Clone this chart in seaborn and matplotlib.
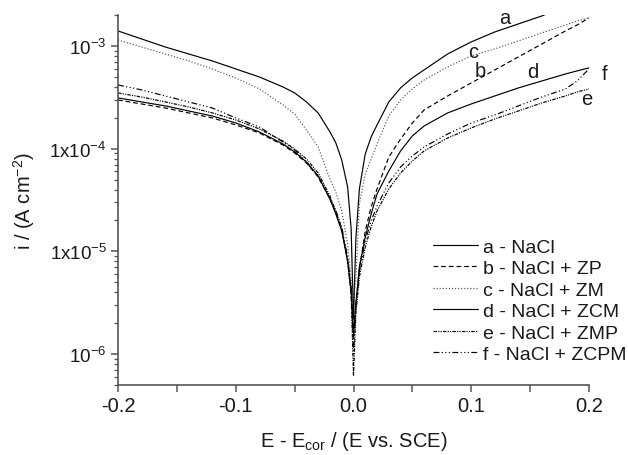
import numpy as np
import pandas as pd
import matplotlib
matplotlib.use("Agg")
import matplotlib.pyplot as plt
import matplotlib.ticker as mticker
import seaborn as sns

# ---- data (current density as log10(i / A cm^-2)) ----
E_a = [-0.2, -0.18, -0.16, -0.14, -0.12, -0.10, -0.08, -0.06, -0.05, -0.04, -0.03, -0.02,
       -0.015, -0.01, -0.005, -0.002, 0.0, 0.002, 0.005, 0.01, 0.015, 0.02, 0.03, 0.04,
       0.05, 0.06, 0.08, 0.10, 0.12, 0.14, 0.16, 0.166]
E = [-0.2, -0.18, -0.16, -0.14, -0.12, -0.10, -0.08, -0.06, -0.05, -0.04, -0.03, -0.02,
     -0.015, -0.01, -0.005, -0.002, 0.0, 0.002, 0.005, 0.01, 0.015, 0.02, 0.03, 0.04,
     0.05, 0.06, 0.08, 0.10, 0.12, 0.14, 0.16, 0.18, 0.19, 0.2]

log_i_a = [-2.854, -2.932, -3.010, -3.078, -3.146, -3.224, -3.302, -3.399, -3.457, -3.545,
           -3.653, -3.837, -3.944, -4.110, -4.372, -4.782, -5.658, -4.879, -4.392, -4.051,
           -3.886, -3.769, -3.545, -3.408, -3.311, -3.233, -3.078, -2.961, -2.864, -2.786,
           -2.708, -2.679]
log_i_b = [-3.526, -3.565, -3.604, -3.652, -3.701, -3.769, -3.847, -3.964, -4.042, -4.139,
           -4.276, -4.490, -4.626, -4.782, -5.093, -5.415, -5.853, -5.512, -5.171, -4.801,
           -4.568, -4.392, -4.081, -3.906, -3.750, -3.623, -3.487, -3.360, -3.234, -3.107,
           -2.981, -2.854, -2.796, -2.727]
log_i_c = [-2.942, -3.010, -3.078, -3.146, -3.224, -3.312, -3.418, -3.574, -3.662, -3.818,
           -3.983, -4.295, -4.422, -4.607, -4.928, -5.269, -5.463, -5.269, -4.538, -4.246,
           -4.100, -3.954, -3.681, -3.526, -3.418, -3.331, -3.204, -3.097, -3.029, -2.951,
           -2.873, -2.796, -2.757, -2.727]
log_i_d = [-3.506, -3.545, -3.584, -3.633, -3.682, -3.750, -3.837, -3.954, -4.032, -4.130,
           -4.266, -4.490, -4.636, -4.801, -5.093, -5.366, -5.804, -5.512, -5.152, -4.860,
           -4.636, -4.441, -4.217, -4.022, -3.876, -3.779, -3.652, -3.565, -3.487, -3.409,
           -3.341, -3.273, -3.243, -3.214]
log_i_e = [-3.458, -3.497, -3.545, -3.594, -3.652, -3.721, -3.808, -3.925, -4.003, -4.100,
           -4.237, -4.461, -4.607, -4.782, -5.093, -5.415, -6.213, -5.609, -5.249, -4.957,
           -4.762, -4.607, -4.392, -4.237, -4.120, -4.022, -3.896, -3.798, -3.711, -3.633,
           -3.555, -3.487, -3.448, -3.419]
log_i_f = [-3.380, -3.428, -3.487, -3.545, -3.604, -3.701, -3.789, -3.935, -4.013, -4.130,
           -4.266, -4.490, -4.607, -4.762, -5.055, -5.366, -5.999, -5.541, -5.191, -4.899,
           -4.704, -4.558, -4.334, -4.178, -4.071, -3.983, -3.857, -3.750, -3.672, -3.584,
           -3.497, -3.419, -3.341, -3.224]

series_names = ["a - NaCl", "b - NaCl + ZP", "c - NaCl + ZM",
                "d - NaCl + ZCM", "e - NaCl + ZMP", "f - NaCl + ZCPM"]
curve_letters = ["a", "b", "c", "d", "e", "f"]
letter_E = [0.1287, 0.1074, 0.1015, 0.1525, 0.1983, 0.2136]
letter_i = [1.91e-3, 5.71e-4, 8.75e-4, 5.58e-4, 3.05e-4, 5.33e-4]

x_ticks = [-0.2, -0.1, 0.0, 0.1, 0.2]
x_tick_labels = ["-0.2", "-0.1", "0.0", "0.1", "0.2"]
y_ticks = [1e-6, 1e-5, 1e-4, 1e-3]
y_tick_labels = [r"$10^{-6}$", r"1x$10^{-5}$", r"1x$10^{-4}$", r"$10^{-3}$"]

# ---- style ----
sns.set_style("ticks")
plt.rcParams["font.family"] = ["Liberation Sans", "DejaVu Sans"]
plt.rcParams["mathtext.fontset"] = "custom"
plt.rcParams["mathtext.rm"] = "Liberation Sans"
plt.rcParams["mathtext.it"] = "Liberation Sans:italic"
plt.rcParams["mathtext.bf"] = "Liberation Sans:bold"

FS = 14.5
FS_Y = 13.5
FS_LEG = 14
spine_col = "#555555"
text_col = "#1a1a1a"

fig = plt.figure(figsize=(6.28, 4.56), dpi=100)
ax = fig.add_axes([118 / 628, 1 - 386 / 456, (589 - 118) / 628, (386 - 16) / 456])

curves = [
    (E_a, log_i_a, "black", "-"),
    (E, log_i_b, "black", (0, (4, 2.5))),
    (E, log_i_c, "#555555", (0, (1, 1.6))),
    (E, log_i_d, "black", "-"),
    (E, log_i_e, "black", (0, (3, 1, 1, 1, 1, 1))),
    (E, log_i_f, "black", (0, (5, 2, 1, 2, 1, 2, 1, 2))),
]

for (xs, ls_vals, col, ls), name in zip(curves, series_names):
    df = pd.DataFrame({"E": xs, "i": np.power(10.0, ls_vals)})
    sns.lineplot(data=df, x="E", y="i", ax=ax, color=col, linestyle=ls,
                 linewidth=0.85, sort=False, estimator=None, label=name)

ax.set_yscale("log")
ax.set_xlim(-0.2, 0.2)
ax.set_ylim(5.0e-7, 2.0e-3)

ax.set_xticks(x_ticks)
ax.set_xticklabels(x_tick_labels)
ax.xaxis.set_minor_locator(mticker.MultipleLocator(0.05))
ax.set_yticks(y_ticks)
ax.set_yticklabels(y_tick_labels)
ax.yaxis.set_minor_locator(mticker.LogLocator(base=10, subs=np.arange(2, 10)))
ax.yaxis.set_minor_formatter(mticker.NullFormatter())

ax.tick_params(which="major", direction="out", length=5, width=1.1,
               color=spine_col, labelcolor=text_col, pad=3)
ax.tick_params(axis="x", which="major", labelsize=FS)
ax.tick_params(axis="y", which="major", labelsize=FS_Y)
ax.tick_params(axis="x", which="minor", direction="out", length=5, width=1.1,
               color=spine_col)
ax.tick_params(axis="y", which="minor", direction="out", length=3, width=0.9,
               color=spine_col)

for s in ["top", "right"]:
    ax.spines[s].set_visible(False)
for s in ["left", "bottom"]:
    ax.spines[s].set_color(spine_col)
    ax.spines[s].set_linewidth(1.2)

ax.set_xlabel(r"E - E$_{\mathrm{cor}}$ / (E vs. SCE)", fontsize=FS, labelpad=10,
              color=text_col)
ax.set_ylabel(r"i / (A cm$^{-2}$)", fontsize=FS, labelpad=9, color=text_col)

for lt, xe, yi in zip(curve_letters, letter_E, letter_i):
    ax.text(xe, yi, lt, fontsize=FS, ha="center", va="center", clip_on=False,
            color=text_col)

leg = ax.legend(loc="upper left", bbox_to_anchor=(433 / 628, 1 - 239 / 456),
                bbox_transform=fig.transFigure, frameon=False, fontsize=FS_LEG,
                handlelength=2.3, handletextpad=0.25, labelspacing=0.2,
                borderpad=0, borderaxespad=0)
for t in leg.get_texts():
    t.set_color(text_col)

fig.savefig("out.png", dpi=100)
